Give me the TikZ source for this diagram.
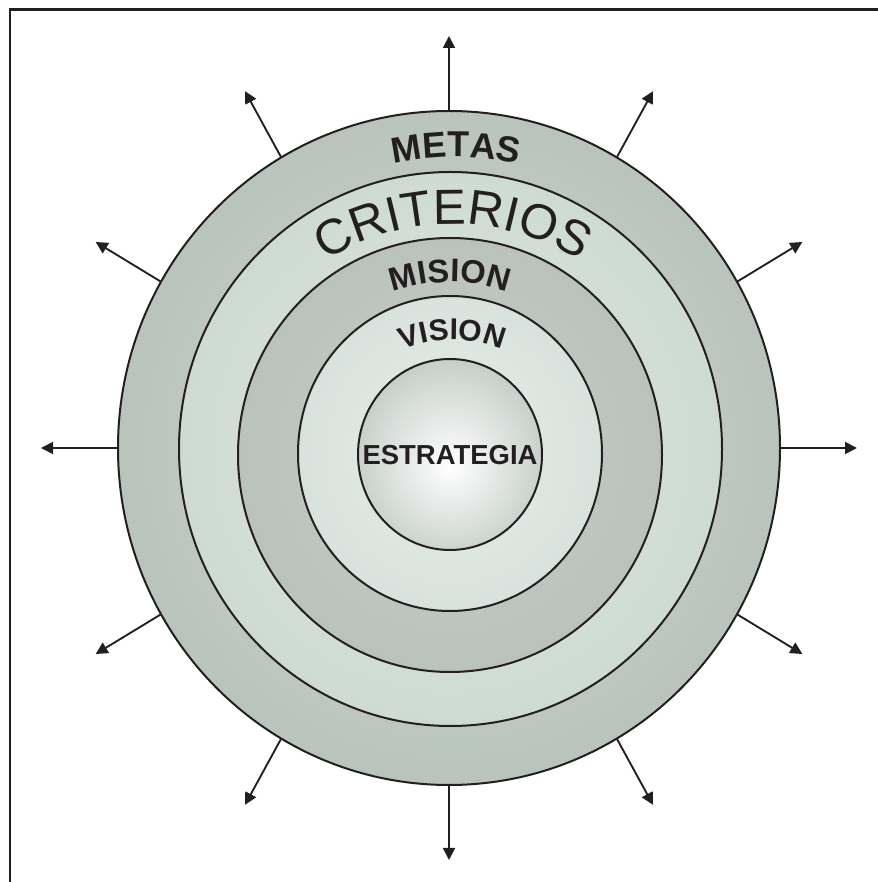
\documentclass[tikz,border=0pt]{standalone}
\usepackage{fontspec}
\newfontfamily\lsans{Liberation Sans}
\usetikzlibrary{shapes.geometric,arrows.meta,decorations.text}
\definecolor{ink}{HTML}{231F20}
\definecolor{oA}{HTML}{D0D9D3}\definecolor{oB}{HTML}{AAB6AE}\definecolor{oC}{HTML}{8B9B90}
\definecolor{sA}{HTML}{DCE6E0}\definecolor{sB}{HTML}{C6D5CC}\definecolor{sC}{HTML}{A9BFB2}
\definecolor{tA}{HTML}{C8CEC9}\definecolor{tB}{HTML}{B5BDB7}\definecolor{tC}{HTML}{93A499}
\definecolor{fA}{HTML}{E8EEEA}\definecolor{fB}{HTML}{D5DFDA}\definecolor{fC}{HTML}{AAC1B3}
\definecolor{iA}{HTML}{FFFFFF}\definecolor{iB}{HTML}{C9D1CC}\definecolor{iC}{HTML}{8A9990}
\pgfdeclareradialshading{outerS}{\pgfpoint{0bp}{0bp}}{color(0bp)=(oA); color(41bp)=(oB); color(50bp)=(oC)}
\pgfdeclareradialshading{secondS}{\pgfpoint{0bp}{0bp}}{color(0bp)=(sA); color(39bp)=(sB); color(50bp)=(sC)}
\pgfdeclareradialshading{thirdS}{\pgfpoint{0bp}{0bp}}{color(0bp)=(tA); color(36bp)=(tB); color(50bp)=(tC)}
\pgfdeclareradialshading{fourthS}{\pgfpoint{0bp}{0bp}}{color(0bp)=(fA); color(30bp)=(fB); color(50bp)=(fC)}
\pgfdeclareradialshading{innerS}{\pgfpoint{0bp}{-3bp}}{color(0bp)=(iA); color(25bp)=(iB); color(50bp)=(iC)}
\tikzset{
  ring/.style={ellipse, draw=ink, line width=1.5pt, inner sep=0pt, outer sep=0pt, shade},
  arr/.style={draw=ink, line width=1.4pt, -{Triangle[length=9pt,width=9pt]}},
  frame/.style={draw=ink, line width=1.6pt},
  arctext/.style={decorate, decoration={text along path, text align=center, text={#1}}}
}
\begin{document}
\begin{tikzpicture}[x=0.75pt,y=0.75pt]
\useasboundingbox (0,0) rectangle (878,882);
\coordinate (fb) at (10,0);
\coordinate (fc) at (10,872.5);
\coordinate (fr) at (878,872.5);
\draw[frame] (fb) -- (fc) -- (fr);
\node[ring, shading=outerS, minimum width=496.5pt, minimum height=505.5pt] (outer) at (449,434) {};
\node[ring, shading=secondS, minimum width=407.25pt, minimum height=415.5pt] (second) at (450.5,433) {};
\node[ring, shading=thirdS, minimum width=318pt, minimum height=325.5pt] (third) at (450,427) {};
\node[ring, shading=fourthS, minimum width=228pt, minimum height=236.25pt] (fourth) at (450,428.5) {};
\node[ring, shading=innerS, minimum width=138pt, minimum height=143.25pt] (inner) at (450,427.5) {};
\foreach \a in {0,30,...,330}{
  \coordinate (tip\a) at ([shift={(\a:408 and 412)}]449,434);
  \draw[arr] (outer.\a) -- (tip\a);
}
\path[arctext={|\lsans\bfseries\fontsize{27}{30}\selectfont\color{ink}|METAS}]
  ([shift={(130:290)}]456,435) arc[start angle=130, end angle=50, radius=290];
\path[arctext={|\lsans\fontsize{37}{42}\selectfont\color{ink}|CRITERIOS}]
  ([shift={(140:236)}]453,422) arc[start angle=140, end angle=40, radius=236];
\path[arctext={|\lsans\bfseries\fontsize{24.5}{28}\selectfont\color{ink}|MISION}]
  ([shift={(140:168)}]450,432) arc[start angle=140, end angle=40, radius=168];
\path[arctext={|\lsans\bfseries\fontsize{22.5}{26}\selectfont\color{ink}|VISION}]
  ([shift={(150:130)}]452,412) arc[start angle=150, end angle=30, radius=130];
\node[font=\lsans\bfseries\fontsize{20.6}{24}\selectfont, text=ink, inner sep=0pt] (estr) at (450,427) {ESTRATEGIA};
\end{tikzpicture}
\end{document}
